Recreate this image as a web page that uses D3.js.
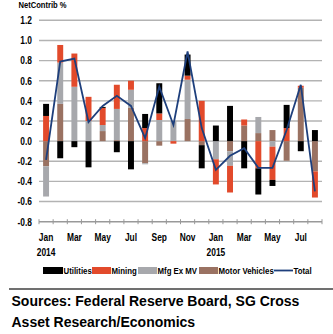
<!DOCTYPE html>
<html><head><meta charset="utf-8">
<script src="https://cdn.jsdelivr.net/npm/d3@7"></script>
<style>
body{margin:0;background:#fff;}
svg{display:block;}
.nar{font-family:"Liberation Sans",Arial,sans-serif;font-weight:bold;}
</style></head><body>
<svg id="c" width="333" height="334"></svg>
<script>
const months = ["Jan","Feb","Mar","Apr","May","Jun","Jul","Aug","Sep","Oct","Nov","Dec","Jan","Feb","Mar","Apr","May","Jun","Jul","Aug"];
const years = ["2014","","","","","","","","","","","","2015","","","","","","",""];
const utilities = [0.12,-0.17,-0.06,-0.26,0.01,-0.11,-0.28,0.14,0.30,0,0.21,-0.23,0.155,0.35,-0.27,-0.26,-0.06,0.23,-0.10,0.11];
const mining    = [0.25,0.175,0.33,0.24,0.17,0.24,0.09,0.13,0.065,-0.025,0.04,0.40,-0.25,-0.265,0.06,-0.27,-0.33,0.13,0.02,-0.26];
const mfgExMV   = [-0.30,0.41,0.54,0.20,0.06,0.31,0.18,-0.01,0.21,0.20,0.39,0,-0.18,-0.145,0,0.16,-0.055,0,0,0];
const motorVeh  = [-0.25,0.37,0,0,0.10,0.01,0.33,-0.22,-0.045,0,0.22,-0.04,0,-0.10,0.155,0.08,0.11,-0.195,0.53,-0.30];
const total     = [-0.185,0.79,0.82,0.19,0.35,0.45,0.35,0.03,0.54,0.16,0.89,0.13,-0.285,-0.145,-0.07,-0.265,-0.265,0.11,0.56,-0.50];
const yTicks = [1.2,1.0,0.8,0.6,0.4,0.2,0.0,-0.2,-0.4,-0.6,-0.8];
const seriesNames = ["Utilities","Mining","Mfg Ex MV","Motor Vehicles"];
const colors = {util:"#000000", mining:"#e24a2b", mfg:"#a7a8ac", mv:"#9a7262"};
const lineColor = "#1e3f7c";

const svg = d3.select("#c");
const L = 39, R = 322, T = 20.3, B = 221.7;
const SX = 0.8;
const idx = d3.range(months.length);
const x = d3.scaleBand().domain(idx).range([L,R]).paddingInner(0.58).paddingOuter(0.29);
const y = d3.scaleLinear().domain([-0.8,1.2]).range([B,T]);
const loc = d3.formatLocale({decimal:".",thousands:",",grouping:[3],currency:["",""],minus:"-"});
const fmt = loc.format(".1f");

function ntext(sel, tx, ty, size, anchor){
  return sel.attr("class","nar").attr("transform",(d,i)=>`translate(${typeof tx==="function"?tx(d,i):tx},${typeof ty==="function"?ty(d,i):ty}) scale(${SX},1)`)
    .attr("font-size",size).attr("text-anchor",anchor||"start").attr("fill","#000");
}

// gridlines
svg.append("g").selectAll("line").data(yTicks.filter(v=>v>-0.8)).join("line")
  .attr("x1",L).attr("x2",R).attr("y1",d=>y(d)).attr("y2",d=>y(d))
  .attr("stroke","#b3b3b3").attr("stroke-width",1.4);

// y labels
ntext(svg.append("g").selectAll("text").data(yTicks).join("text"), 32, d=>y(d)+3.8, 10.5, "end").text(d=>fmt(d));

ntext(svg.append("text"), 18.5, 8, 9.5).text("NetContrib %");

// stacked bars
const table = idx.map(i=>({i, util:utilities[i], mining:mining[i], mfg:mfgExMV[i], mv:motorVeh[i]}));
const stack = d3.stack().keys(["mv","mfg","mining","util"]).offset(d3.stackOffsetDiverging);
const layers = stack(table);
svg.append("g").selectAll("g").data(layers).join("g").attr("fill",d=>colors[d.key])
  .selectAll("rect").data(d=>d).join("rect")
  .attr("x",d=>x(d.data.i)).attr("width",x.bandwidth())
  .attr("y",d=>y(Math.max(d[0],d[1]))).attr("height",d=>Math.abs(y(d[0])-y(d[1])));

// x axis
const step = x.step();
svg.append("line").attr("x1",L).attr("x2",R).attr("y1",B).attr("y2",B).attr("stroke","#999").attr("stroke-width",1.4);
svg.append("g").selectAll("line").data(d3.range(months.length+1)).join("line")
  .attr("x1",d=>L+d*step).attr("x2",d=>L+d*step).attr("y1",B-2.5).attr("y2",B+2.5)
  .attr("stroke","#999").attr("stroke-width",1);
ntext(svg.append("g").selectAll("text").data(idx.filter(i=>i%2===0)).join("text"),
  i=>x(i)+x.bandwidth()/2, 240.5, 10.5, "middle").text(i=>months[i]);
ntext(svg.append("g").selectAll("text").data(idx.filter(i=>years[i])).join("text"),
  i=>x(i)+x.bandwidth()/2, 255.5, 10.5, "middle").text(i=>years[i]);

// total line
const line = d3.line().x(i=>x(i)+x.bandwidth()/2).y(i=>y(total[i]));
svg.append("path").datum(idx).attr("d",line).attr("fill","none").attr("stroke",lineColor).attr("stroke-width",1.8).attr("stroke-linejoin","miter");

// legend
const leg = [
  {name:seriesNames[0], c:colors.util, rx:43, rw:20, tx:63.5},
  {name:seriesNames[1], c:colors.mining, rx:92, rw:19, tx:111.5},
  {name:seriesNames[2], c:colors.mfg, rx:138, rw:19, tx:157.5},
  {name:seriesNames[3], c:colors.mv, rx:199, rw:19, tx:218.5}
];
const lg = svg.append("g");
leg.forEach(d=>{
  lg.append("rect").attr("x",d.rx).attr("y",267).attr("width",d.rw).attr("height",7).attr("fill",d.c);
  ntext(lg.append("text"), d.tx, 274.3, 9.8).text(d.name);
});
lg.append("line").attr("x1",274).attr("x2",293).attr("y1",270.5).attr("y2",270.5).attr("stroke",lineColor).attr("stroke-width",1.8);
ntext(lg.append("text"), 293.5, 274.3, 9.8).text("Total");

// separator & sources
svg.append("line").attr("x1",9).attr("x2",333).attr("y1",289).attr("y2",289).attr("stroke","#707070").attr("stroke-width",2);
svg.append("text").attr("x",11.5).attr("y",306).attr("font-family","Liberation Sans, Arial, sans-serif").attr("font-weight","bold").attr("font-size",14).text("Sources: Federal Reserve Board, SG Cross");
svg.append("text").attr("x",11.5).attr("y",327).attr("font-family","Liberation Sans, Arial, sans-serif").attr("font-weight","bold").attr("font-size",14).text("Asset Research/Economics");
</script>
</body></html>
